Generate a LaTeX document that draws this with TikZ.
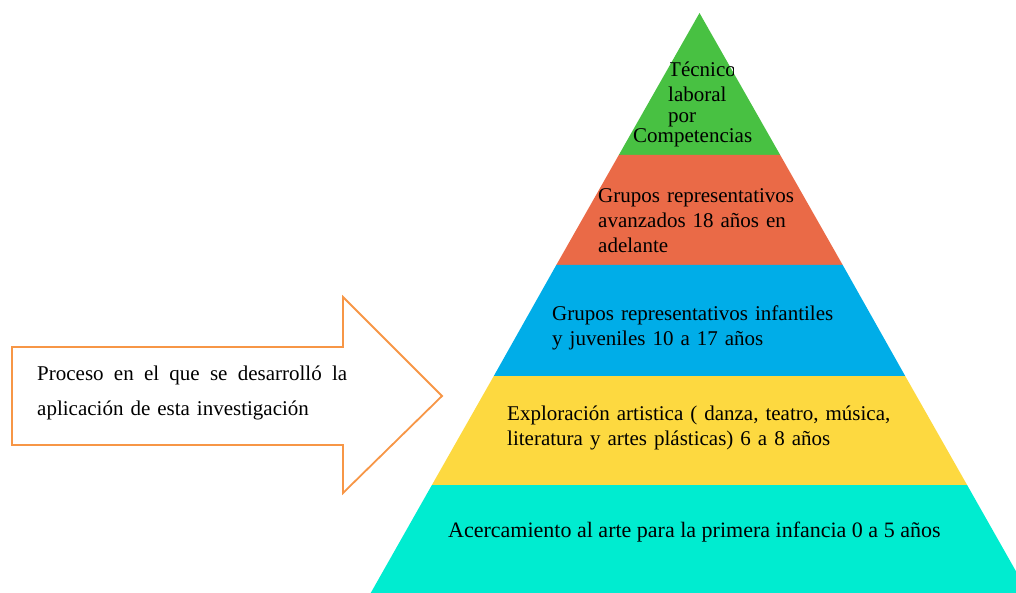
\documentclass[tikz,border=0pt]{standalone}
\usepackage{fontspec}
\setmainfont{Liberation Serif}

\definecolor{lvgreen}{HTML}{48C142}
\definecolor{lvorange}{HTML}{EA6A47}
\definecolor{lvblue}{HTML}{00ADE8}
\definecolor{lvyellow}{HTML}{FDD940}
\definecolor{lvteal}{HTML}{00ECD0}
\definecolor{arrowline}{HTML}{F79646}

\tikzset{
    band/.style={draw=none},
    txt/.style={anchor=base west, inner sep=0pt, align=left, font=\fontsize{21}{25}\selectfont},
    proc/.style={draw=arrowline, fill=white, line width=1.8pt, line join=miter},
  }

\begin{document}
\begin{tikzpicture}[x=1pt, y=-1pt]
        \useasboundingbox (0,0) rectangle (1016,593);
        % pyramid levels
        \begin{scope}
            \clip (0,0) rectangle (1016,593);
            \fill[band, lvgreen]  (699.5,13) -- (780.2,155) -- (618.8,155) -- cycle;
            \fill[band, lvorange] (618.8,155) -- (780.2,155) -- (842.7,265) -- (556.3,265) -- cycle;
            \fill[band, lvblue]   (556.3,265) -- (842.7,265) -- (905.2,376) -- (493.8,376) -- cycle;
            \fill[band, lvyellow] (493.8,376) -- (905.2,376) -- (967.1,485) -- (431.9,485) -- cycle;
            \fill[band, lvteal]   (431.9,485) -- (967.1,485) -- (1030,596) -- (369,596) -- cycle;
        \end{scope}
        \begin{scope}
            \clip (670,50) rectangle (733,85);
            \node[txt] (tec) at (668,77) {Técnico};
        \end{scope}
        \node[txt] (lab) at (668,102) {laboral};
        \node[txt] (por) at (668,123) {por};
        \node[txt] (comp) at (633,143) {Competencias};
        \node[txt, text width=220pt] (avz) at (598,203) {Grupos representativos\\avanzados 18 años en\\adelante};
        \node[txt, text width=300pt] (inf) at (552,320) {Grupos representativos infantiles\\y juveniles 10 a 17 años};
        \node[txt, text width=420pt] (expl) at (507,420) {Exploración artistica ( danza, teatro, música,\\literatura y artes plásticas) 6 a 8 años};
        \node[txt, font=\fontsize{22}{25}\selectfont] (acer) at (448,537) {Acercamiento al arte para la primera infancia 0 a 5 años};
        % process arrow
        \draw[proc] (12,347) -- (343,347) -- (343,297) -- (442,396) -- (343,493) -- (343,445) -- (12,445) -- cycle;
        \node[txt, text width=310pt, font=\fontsize{21}{35}\selectfont] (proc) at (37,380)
            {\hbox to 310pt{Proceso\hfill en\hfill el\hfill que\hfill se\hfill desarrolló\hfill la}\\aplicación de esta investigación};
    \end{tikzpicture}
\end{document}
